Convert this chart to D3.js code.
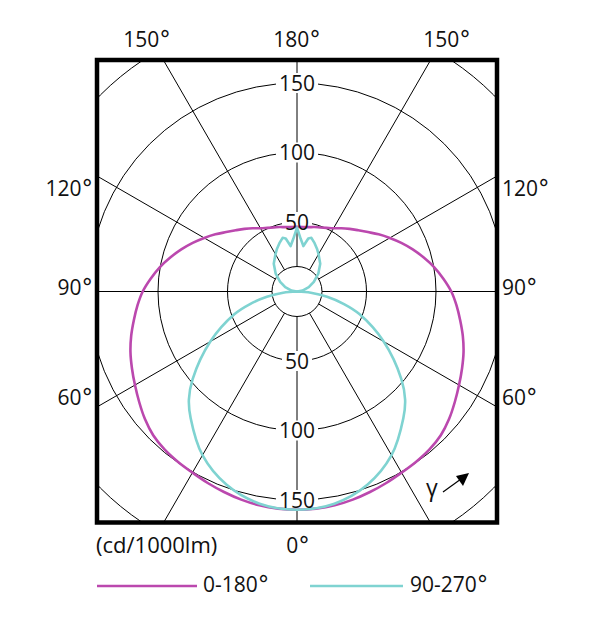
<!DOCTYPE html>
<html>
<head>
<meta charset="utf-8">
<script src="https://cdn.jsdelivr.net/npm/d3@7"></script>
<style>
    body { margin: 0; background: #fff; }
    text { font-family: "Open Sans", sans-serif; fill: #111; }
    .deg { font-family: "DejaVu Sans", sans-serif; }
</style>
</head>
<body>
<script>
// -------------------- DATA -------------------- //

// C0-180 plane, gamma (deg) and intensity (cd/1000lm)
let gammaC0 = [0, 5, 10, 15, 20, 25, 30, 35, 40, 45, 50, 55, 60, 65, 70, 75, 80, 85, 90,
    95, 100, 105, 110, 115, 120, 125, 130, 135, 140, 145, 150, 155, 160, 165, 170, 180];
let intensityC0 = [157, 156.8, 156.2, 155, 153.5, 152, 150.5, 149.5, 148.3, 146.3, 142.8, 138.6, 134.6, 131, 127.5, 123.5, 119.2, 115.2, 111,
    105.7, 100.3, 94.4, 88.6, 82.8, 77.1, 71.7, 66.5, 62.3, 58.8, 55.6, 52.5, 50.5, 49, 48, 47, 46.5];

// C90-270 plane
let gammaC90 = [0, 10, 20, 30, 40, 45, 50, 60, 70, 75, 80, 85, 90, 100, 110, 120, 130, 140, 150, 155, 160, 165, 168, 172, 176, 180];
let intensityC90 = [157, 155, 148, 136, 119, 110, 98, 72, 48, 35, 22, 10, 0, 4, 9, 14, 20, 26, 31, 34, 37, 40, 39, 33, 38, 46];

let seriesNames = ["0-180°", "90-270°"];
let seriesColors = ["#bb48ae", "#7fd3d1"];

let ringValues = [50, 100, 150, 200];
let ringLabels = [50, 100, 150];
let spokeAngles = [0, 30, 60, 90, 120, 150, 180, 210, 240, 270, 300, 330];
let topLabels = ["150°", "180°", "150°"];
let sideLabels = ["120°", "90°", "60°"];
let bottomLabel = "0°";
let unitLabel = "(cd/1000lm)";

// -------------------- LAYOUT -------------------- //
let cx = 297, cy = 291.5;
let box = { x0: 97, x1: 497, y0: 60, y1: 522.5 };
let hub = 25;

let r = d3.scaleLinear().domain([0, 150]).range([0, 208.5]);

let svg = d3.select("body").append("svg")
    .attr("width", 604)
    .attr("height", 625);

svg.append("defs").append("clipPath")
    .attr("id", "box-clip")
    .append("rect")
    .attr("x", box.x0).attr("y", box.y0)
    .attr("width", box.x1 - box.x0).attr("height", box.y1 - box.y0);

// writes "xxx°" with a bigger degree ring, like the original sheet
function degText(sel) {
    sel.each(function (d) {
        let t = d3.select(this);
        let s = String(d);
        if (s.endsWith("°")) {
            t.append("tspan").text(s.slice(0, -1));
            t.append("tspan").attr("class", "deg").style("font-size", "23px").text("°");
        } else {
            t.text(s);
        }
    });
}

// -------------------- GRID -------------------- //
let grid = svg.append("g").attr("clip-path", "url(#box-clip)");

grid.selectAll(".ring")
    .data(ringValues)
    .enter()
    .append("circle")
    .attr("class", "ring")
    .attr("cx", cx).attr("cy", cy)
    .attr("r", d => r(d))
    .attr("fill", "none")
    .attr("stroke", "#000")
    .attr("stroke-width", 1);

grid.append("circle")
    .attr("cx", cx).attr("cy", cy)
    .attr("r", hub)
    .attr("fill", "none")
    .attr("stroke", "#000")
    .attr("stroke-width", 1);

grid.selectAll(".spoke")
    .data(spokeAngles)
    .enter()
    .append("line")
    .attr("class", "spoke")
    .attr("x1", d => cx + hub * Math.sin(d * Math.PI / 180))
    .attr("y1", d => cy + hub * Math.cos(d * Math.PI / 180))
    .attr("x2", d => cx + 420 * Math.sin(d * Math.PI / 180))
    .attr("y2", d => cy + 420 * Math.cos(d * Math.PI / 180))
    .attr("stroke", "#000")
    .attr("stroke-width", 1);

// label backgrounds go under the curves, the text above them
let labelBg = svg.append("g");

// -------------------- CURVES -------------------- //
let radial = d3.lineRadial()
    .angle(d => d[0])
    .radius(d => r(d[1]));

function leftSide(gs, vs) {
    // gamma measured from nadir, drawn on the left half
    return gs.map((g, i) => [Math.PI + g * Math.PI / 180, vs[i]]);
}
function rightSide(gs, vs) {
    return gs.map((g, i) => [Math.PI - g * Math.PI / 180, vs[i]]);
}

let curves = svg.append("g").attr("transform", `translate(${cx},${cy})`);

// C0-180 : one closed outline
let c0Left = leftSide(gammaC0, intensityC0).reverse();
let c0Right = rightSide(gammaC0, intensityC0).slice(1, -1);
curves.append("path")
    .attr("d", radial.curve(d3.curveCatmullRomClosed)(c0Left.concat(c0Right)))
    .attr("fill", "none")
    .attr("stroke", seriesColors[0])
    .attr("stroke-width", 2.6);

// C90-270 : lower and upper lobes meeting at the centre
let lowIdx = gammaC90.map((g, i) => i).filter(i => gammaC90[i] <= 90);
let upIdx = gammaC90.map((g, i) => i).filter(i => gammaC90[i] >= 90);

let lowG = lowIdx.map(i => gammaC90[i]), lowV = lowIdx.map(i => intensityC90[i]);
let upG = upIdx.map(i => gammaC90[i]), upV = upIdx.map(i => intensityC90[i]);

let lowerLobe = leftSide(lowG, lowV).reverse().concat(rightSide(lowG, lowV).slice(1));
let upperLobe = leftSide(upG, upV).concat(rightSide(upG, upV).reverse().slice(1));

curves.append("path")
    .attr("d", radial.curve(d3.curveCatmullRom.alpha(0.5))(lowerLobe))
    .attr("fill", "none")
    .attr("stroke", seriesColors[1])
    .attr("stroke-width", 2.6);

curves.append("path")
    .attr("d", radial.curve(d3.curveLinear)(upperLobe))
    .attr("fill", "none")
    .attr("stroke", seriesColors[1])
    .attr("stroke-width", 2.6)
    .attr("stroke-linejoin", "round");

// -------------------- RING LABELS -------------------- //
let labels = svg.append("g");
let ringLabelData = [];
ringLabels.forEach(v => {
    ringLabelData.push({ v: v, y: cy - r(v) });
    ringLabelData.push({ v: v, y: cy + r(v) });
});

labels.selectAll(".ring-label")
    .data(ringLabelData)
    .enter()
    .append("text")
    .attr("class", "ring-label")
    .attr("x", cx)
    .attr("y", d => d.y)
    .attr("dy", "0.36em")
    .attr("text-anchor", "middle")
    .style("font-size", "21px")
    .text(d => d.v)
    .each(function (d) {
        let bb = this.getBBox();
        labelBg.append("rect")
            .attr("x", bb.x - 3)
            .attr("y", d.y - 10)
            .attr("width", bb.width + 6)
            .attr("height", 20)
            .attr("fill", "#fff");
    });

// -------------------- FRAME -------------------- //
svg.append("rect")
    .attr("x", box.x0).attr("y", box.y0)
    .attr("width", box.x1 - box.x0).attr("height", box.y1 - box.y0)
    .attr("fill", "none")
    .attr("stroke", "#000")
    .attr("stroke-width", 4.5);

// -------------------- ANGLE LABELS -------------------- //
let topX = [cx - 150, cx, cx + 150];
svg.selectAll(".top-label")
    .data(topLabels)
    .enter()
    .append("text")
    .attr("x", (d, i) => topX[i])
    .attr("y", 47)
    .attr("text-anchor", "middle")
    .style("font-size", "21px")
    .call(degText);

let sideY = [196, 295, 405];
svg.selectAll(".left-label")
    .data(sideLabels)
    .enter()
    .append("text")
    .attr("x", 93)
    .attr("y", (d, i) => sideY[i])
    .attr("text-anchor", "end")
    .style("font-size", "21px")
    .call(degText);

svg.selectAll(".right-label")
    .data(sideLabels)
    .enter()
    .append("text")
    .attr("x", 502)
    .attr("y", (d, i) => sideY[i])
    .attr("text-anchor", "start")
    .style("font-size", "21px")
    .call(degText);

svg.selectAll(".bottom-label")
    .data([bottomLabel])
    .enter()
    .append("text")
    .attr("x", cx + 1)
    .attr("y", 553)
    .attr("text-anchor", "middle")
    .style("font-size", "21px")
    .call(degText);

svg.append("text")
    .attr("x", 96)
    .attr("y", 553)
    .style("font-size", "22px")
    .text(unitLabel);

// gamma direction mark
svg.append("text")
    .attr("x", 432)
    .attr("y", 496)
    .attr("text-anchor", "middle")
    .style("font-size", "23px")
    .text("γ");

svg.append("line")
    .attr("x1", 443).attr("y1", 492)
    .attr("x2", 461).attr("y2", 479)
    .attr("stroke", "#000")
    .attr("stroke-width", 1.2);

svg.append("path")
    .attr("d", "M469,473 L456,476 L463,486 Z")
    .attr("fill", "#000");

// -------------------- LEGEND -------------------- //
let legendX = [97, 310];
let legend = svg.selectAll(".legend")
    .data(seriesNames)
    .enter()
    .append("g")
    .attr("class", "legend")
    .attr("transform", (d, i) => `translate(${legendX[i]},586)`);

legend.append("line")
    .attr("x1", 0).attr("x2", (d, i) => i == 0 ? 100 : 93)
    .attr("stroke", (d, i) => seriesColors[i])
    .attr("stroke-width", 2.6);

legend.append("text")
    .attr("x", (d, i) => i == 0 ? 106 : 100)
    .attr("y", 6)
    .style("font-size", "21px")
    .call(degText);
</script>
</body>
</html>
